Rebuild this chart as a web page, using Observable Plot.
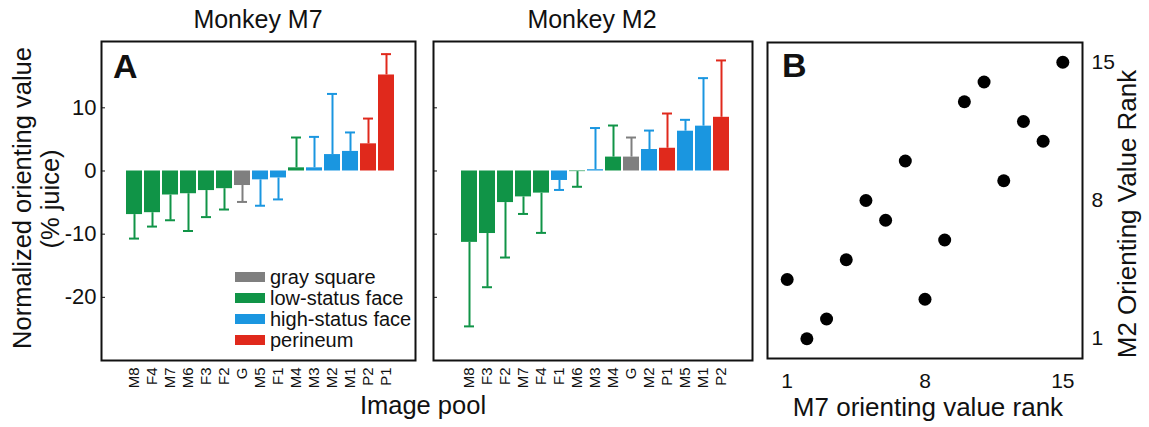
<!DOCTYPE html>
<html><head><meta charset="utf-8">
<script src="https://cdn.jsdelivr.net/npm/d3@7"></script>
<script src="https://cdn.jsdelivr.net/npm/@observablehq/plot@0.6"></script>
<style>
body{margin:0;background:#fff;font-family:"Liberation Sans",Arial,sans-serif;}
#fig{position:relative;width:1149px;height:427px;overflow:hidden;background:#fff;}
#fig svg{position:absolute;top:0;}
</style></head><body><div id="fig"></div>
<script>
// ---- data ----
const m7Pool = ["M8","F4","M7","M6","F3","F2","G","M5","F1","M4","M3","M2","M1","P2","P1"];
const m7Value = [-6.9,-6.6,-3.8,-3.6,-3.1,-2.8,-2.3,-1.4,-1.1,0.5,0.5,2.6,3.1,4.3,15.2];
const m7ErrEnd = [-10.7,-8.8,-7.8,-9.5,-7.3,-6.1,-4.9,-5.5,-4.5,5.3,5.4,12.2,6.1,8.3,18.5];
const m2Pool = ["M8","F3","F2","M7","F4","F1","M6","M3","M4","G","M2","P1","M5","M1","P2"];
const m2Value = [-11.3,-9.9,-5.0,-4.1,-3.5,-1.5,-0.1,0.2,2.2,2.2,3.4,3.6,6.3,7.1,8.5];
const m2ErrEnd = [-24.6,-18.4,-13.7,-6.8,-9.8,-3.0,-2.5,6.8,7.2,5.3,6.4,9.1,8.1,14.7,17.5];
const categories = ["gray square","low-status face","high-status face","perineum"];
const categoryColors = ["#7f7f7f","#109447","#1a96e0","#e0291c"];
const grayImages = ["G"];
const highStatusImages = ["M5","F1","M3","M2","M1"];
const perineumImages = ["P1","P2"];
const m7Rank = [1,2,3,4,5,6,7,8,9,10,11,12,13,14,15];
const m2Rank = [4,1,2,5,8,7,10,3,6,13,14,9,12,11,15];
const valueTicks = [10,0,-10,-20];
const rankTicks = [1,8,15];

const FONT = '"Liberation Sans",Arial,sans-serif';
function catOf(p){
  if (grayImages.includes(p)) return categories[0];
  if (perineumImages.includes(p)) return categories[3];
  if (highStatusImages.includes(p)) return categories[2];
  return categories[1];
}
const fig = document.getElementById("fig");

function barPanel(pool, values, errs, opts){
  const data = pool.map((p,i)=>({pool:p, value:values[i], err:errs[i], cat:catOf(p)}));
  const svg = Plot.plot({
    width: opts.width, height: 427,
    marginLeft: opts.ml, marginRight: opts.mr, marginTop: 41, marginBottom: 67,
    x: {type:"band", domain: pool, paddingInner: 0.12, paddingOuter: 1.0, align: 0.55},
    y: {domain: [-30, 20.5]},
    color: {domain: categories, range: categoryColors},
    style: {fontFamily: FONT, color: "#111", background: "transparent", overflow: "visible"},
    marks: [
      Plot.ruleX(data, {x:"pool", y1:"value", y2:"err", stroke:"cat", strokeWidth:2}),
      Plot.tickY(data, {x:"pool", y:"err", stroke:"cat", strokeWidth:2, insetLeft:3, insetRight:3}),
      Plot.barY(data, {x:"pool", y1:0, y2:"value", fill:"cat"}),
      Plot.axisY({ticks: valueTicks, tickSize: -4, tickPadding: 9, fontSize: 22,
        tickFormat: opts.labels ? (d => String(d)) : (() => ""), label: null}),
      Plot.axisX({tickRotate: -90, tickSize: 0, tickPadding: 7, fontSize: 15, label: null}),
      Plot.frame({stroke: "#111", strokeWidth: 2})
    ]
  });
  svg.style.left = opts.left + "px";
  fig.appendChild(svg);
}

barPanel(m7Pool, m7Value, m7ErrEnd, {width: 420, ml: 101, mr: 5, left: 0, labels: true});
barPanel(m2Pool, m2Value, m2ErrEnd, {width: 340, ml: 13, mr: 8, left: 420, labels: false});

const points = m7Rank.map((r,i)=>({m7:r, m2:m2Rank[i]}));
const svgB = Plot.plot({
  width: 389, height: 427, marginLeft: 7, marginRight: 67, marginTop: 42, marginBottom: 69,
  x: {domain: [0, 16]}, y: {domain: [0, 16]},
  style: {fontFamily: FONT, color: "#111", background: "transparent", overflow: "visible"},
  marks: [
    Plot.dot(points, {x:"m7", y:"m2", r: 6.5, fill: "#000"}),
    Plot.axisX({ticks: rankTicks, tickSize: 0, tickPadding: 15, fontSize: 21, label: null}),
    Plot.axisY({anchor: "right", ticks: rankTicks, tickSize: 0, tickPadding: 9, fontSize: 21, label: null}),
    Plot.frame({stroke: "#111", strokeWidth: 2})
  ]
});
svgB.style.left = "760px";
fig.appendChild(svgB);

// ---- overlay text & legend ----
const ov = d3.select(fig).append("svg").attr("width",1149).attr("height",427)
  .style("left","0px").style("pointer-events","none")
  .attr("font-family", FONT).attr("fill","#111");
function txt(x,y,s,size,opt={}){
  const t = ov.append("text").attr("x",x).attr("y",y).attr("font-size",size)
    .attr("text-anchor", opt.anchor || "middle").text(s);
  if (opt.bold) t.attr("font-weight","bold");
  if (opt.rot) t.attr("transform",`rotate(-90,${x},${y})`);
  return t;
}
txt(258,28,"Monkey M7",25);
txt(592,28,"Monkey M2",25);
txt(113,78,"A",34,{anchor:"start",bold:true});
txt(782,77,"B",34,{anchor:"start",bold:true});
txt(31,198,"Normalized orienting value",25.5,{rot:true});
txt(59,199,"(% juice)",25.5,{rot:true});
txt(423,414,"Image pool",25.5);
txt(928,416,"M7 orienting value rank",26);
txt(1136,214,"M2 Orienting Value Rank",26,{rot:true});
categories.forEach((c,i)=>{
  const cy = 277 + i*21;
  ov.append("rect").attr("x",235).attr("y",cy-5).attr("width",30).attr("height",10).attr("fill",categoryColors[i]);
  txt(270,cy+7,c,20,{anchor:"start"});
});
</script></body></html>
